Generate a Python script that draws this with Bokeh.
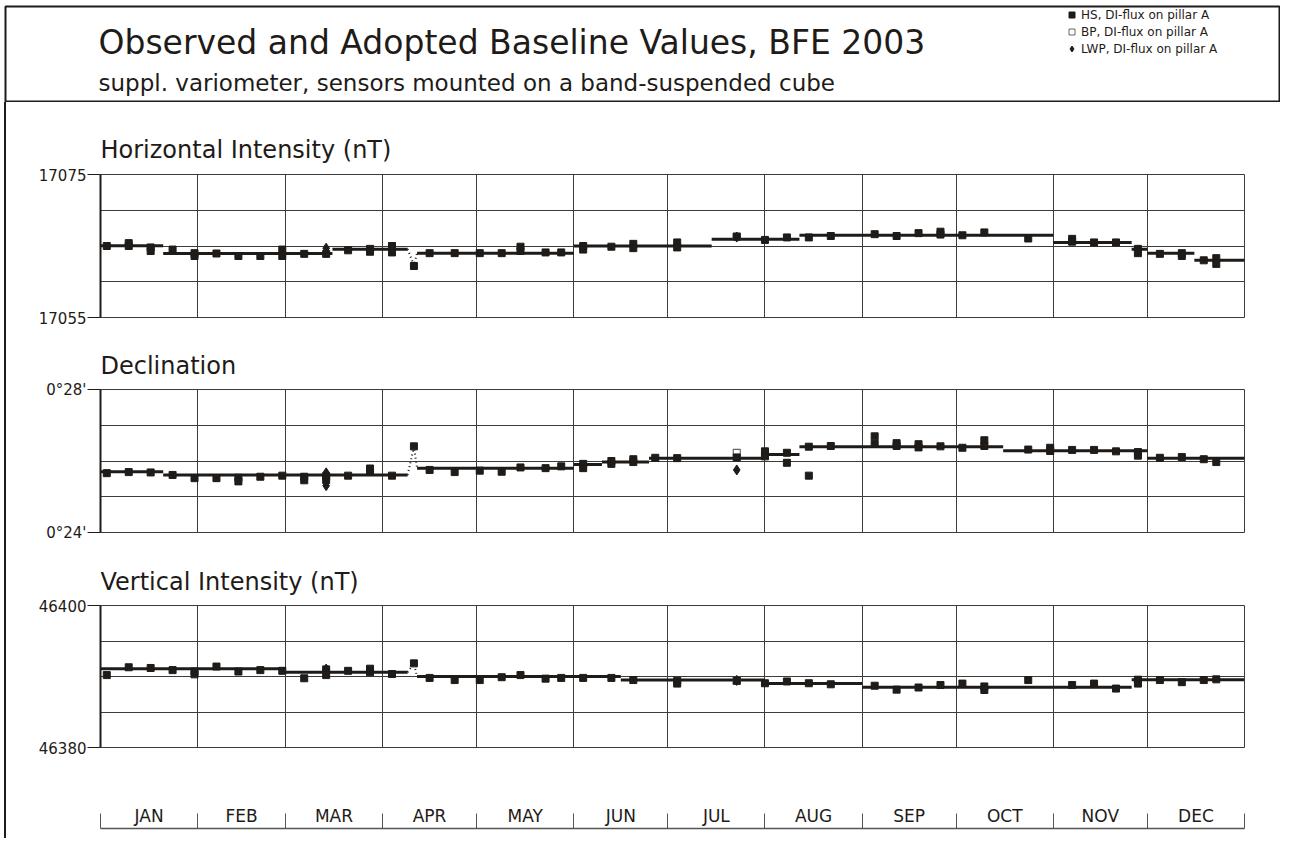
from bokeh.plotting import figure
from bokeh.layouts import column, row
from bokeh.models import (Range1d, FixedTicker, Grid, Label, Legend, LegendItem, Div)
from bokeh.embed import file_html
from bokeh.resources import INLINE

# ---------------- data ----------------
months = ["JAN", "FEB", "MAR", "APR", "MAY", "JUN", "JUL", "AUG", "SEP", "OCT", "NOV", "DEC"]
month_days = [31, 28, 31, 30, 31, 30, 31, 31, 30, 31, 30, 31]

# Horizontal intensity (nT), HS observations (day of year)
h_days = [2, 9, 9, 16, 16, 23, 30, 30, 37, 44, 51, 58, 58, 65, 72, 79, 86, 86, 93, 93,
          100, 105, 113, 121, 128, 134, 134, 142, 147, 154, 154, 163, 170, 170, 184, 184,
          203, 212, 219, 226, 233, 247, 254, 261, 268, 268, 275, 282, 296, 310, 310, 317,
          324, 331, 331, 338, 345, 345, 352, 356, 356]
h_vals = [17065.0, 17065.4, 17065.0, 17064.8, 17064.3, 17064.5, 17064.0, 17063.6, 17063.95, 17063.6,
          17063.6, 17064.5, 17063.6, 17063.9, 17063.9, 17064.4, 17064.6, 17064.2, 17065.0, 17064.1,
          17062.2, 17064.0, 17064.0, 17064.0, 17064.0, 17064.9, 17064.3, 17064.1, 17064.1, 17065.0,
          17064.5, 17064.9, 17065.3, 17064.7, 17065.5, 17064.8, 17066.3, 17065.85, 17066.2, 17066.2,
          17066.4, 17066.65, 17066.4, 17066.8, 17067.0, 17066.6, 17066.5, 17066.9, 17066.05, 17066.0,
          17065.6, 17065.5, 17065.5, 17064.6, 17064.0, 17063.9, 17064.0, 17063.6, 17063.0, 17063.3,
          17062.5]
h_bp_days = [203]
h_bp_vals = [17066.3]
h_lwp_days = [72, 203]
h_lwp_vals = [17064.7, 17066.25]
h_base_start = [0, 20, 74, 101, 151, 195, 223, 304, 329, 334, 349]
h_base_end = [20, 74, 98, 151, 195, 223, 304, 329, 334, 349, 365]
h_base_vals = [17065.03, 17063.95, 17064.55, 17064.0, 17065.0, 17065.95, 17066.5, 17065.5,
               17064.55, 17064.0, 17063.0]
h_jump_days = [98, 100, 101]
h_jump_vals = [17064.55, 17062.3, 17064.0]
h_ticks = [17055, 17075]
h_minor = [17060, 17065, 17070]
h_labels = ["17055", "17075"]

# Declination (arc minutes), HS observations
d_days = [2, 9, 16, 23, 30, 37, 44, 44, 51, 58, 65, 65, 72, 72, 79, 86, 86, 93, 100, 105,
          113, 121, 128, 134, 142, 147, 154, 154, 163, 163, 170, 170, 177, 184, 203, 212, 212,
          219, 219, 226, 226, 233, 247, 247, 254, 254, 261, 261, 268, 275, 282, 282, 296, 303,
          303, 310, 317, 324, 331, 331, 338, 345, 352, 356]
d_vals = [25.66, 25.69, 25.68, 25.61, 25.52, 25.52, 25.53, 25.43, 25.56, 25.59,
          25.56, 25.46, 25.57, 25.47, 25.59, 25.79, 25.70, 25.59, 26.41, 25.75,
          25.69, 25.73, 25.70, 25.82, 25.80, 25.85, 25.92, 25.80, 26.00, 25.92,
          26.05, 25.97, 26.09, 26.08, 26.10, 26.27, 26.13, 26.23, 25.95, 25.59,
          26.40, 26.42, 26.69, 26.48, 26.50, 26.42, 26.47, 26.38, 26.41, 26.37,
          26.58, 26.42, 26.32, 26.37, 26.28, 26.31, 26.31, 26.27, 26.25, 26.15,
          26.09, 26.11, 26.05, 25.97]
d_bp_days = [203]
d_bp_vals = [26.23]
d_lwp_days = [72, 72, 203]
d_lwp_vals = [25.67, 25.31, 25.75]
d_base_start = [0, 20, 101, 151, 160, 175, 212, 223, 288, 334]
d_base_end = [20, 98, 151, 160, 175, 212, 223, 288, 334, 365]
d_base_vals = [25.70, 25.61, 25.80, 25.90, 25.97, 26.08, 26.18, 26.40, 26.29, 26.08]
d_jump_days = [98, 100, 101]
d_jump_vals = [25.61, 26.40, 25.80]
d_ticks = [24, 28]
d_minor = [25, 26, 27]
d_labels = ["0°24'", "0°28'"]

# Vertical intensity (nT), HS observations
z_days = [2, 9, 16, 23, 30, 30, 37, 44, 51, 58, 65, 72, 72, 79, 86, 86, 93, 100, 105, 113,
          121, 128, 134, 142, 147, 154, 163, 170, 184, 184, 203, 212, 219, 226, 233, 247,
          254, 261, 268, 275, 282, 282, 296, 310, 317, 324, 331, 331, 338, 345, 352, 356]
z_vals = [46390.2, 46391.3, 46391.2, 46390.9, 46390.7, 46390.3, 46391.4, 46390.7, 46390.9, 46390.8,
          46389.75, 46391.0, 46390.2, 46390.8, 46391.1, 46390.6, 46390.35, 46391.85, 46389.8, 46389.5,
          46389.5, 46389.9, 46390.2, 46389.7, 46389.8, 46389.8, 46389.8, 46389.5, 46389.4, 46389.0,
          46389.4, 46389.05, 46389.3, 46389.05, 46388.9, 46388.7, 46388.15, 46388.45, 46388.8, 46389.0,
          46388.6, 46388.1, 46389.5, 46388.8, 46389.0, 46388.3, 46389.55, 46389.0, 46389.5, 46389.2,
          46389.5, 46389.6]
z_bp_days = [203]
z_bp_vals = [46389.4]
z_lwp_days = [72, 203]
z_lwp_vals = [46391.05, 46389.45]
z_base_start = [0, 59, 101, 166, 212, 243, 329]
z_base_end = [59, 98, 166, 212, 243, 329, 365]
z_base_vals = [46391.1, 46390.6, 46390.0, 46389.5, 46389.0, 46388.5, 46389.55]
z_jump_days = [98, 100, 101]
z_jump_vals = [46390.6, 46391.8, 46390.0]
z_ticks = [46380, 46400]
z_minor = [46385, 46390, 46395]
z_labels = ["46380", "46400"]

title_text = "Observed and Adopted Baseline Values, BFE 2003"
subtitle_text = "suppl. variometer, sensors mounted on a band-suspended cube"
legend_labels = ["HS, DI-flux on pillar A", "BP, DI-flux on pillar A", "LWP, DI-flux on pillar A"]

# ---------------- style ----------------
FONT = "DejaVu Sans"
INK = "#1e1b18"
GRID = "#3c3c3c"
W = 1280          # total width
PW = 1274         # width of the panel column (after 4px gap + 2px border strip)

bounds = [0]
for n in month_days:
    bounds.append(bounds[-1] + n)
centers = [(a + b) / 2 for a, b in zip(bounds[:-1], bounds[1:])]

# ---------------- header ----------------
hdr = figure(width=W, height=102, x_range=Range1d(5, 1279), y_range=Range1d(101, 6),
             x_axis_type=None, y_axis_type=None,
             min_border_left=5, min_border_top=6, min_border_right=1, min_border_bottom=1,
             toolbar_location=None, output_backend="svg",
             outline_line_color=INK, outline_line_width=2)
hdr.add_layout(Label(x=98, y=42, text=title_text, text_font=FONT, text_font_size="33px",
                     text_baseline="middle", text_color=INK))
hdr.add_layout(Label(x=98, y=82, text=subtitle_text, text_font=FONT, text_font_size="23px",
                     text_baseline="middle", text_color=INK))
# legend glyphs are bound to the H series (they fall outside the header's ranges)
r_bp = hdr.scatter(h_bp_days, h_bp_vals, marker="square", size=7, fill_color="white",
                   line_color="#666666")
r_hs = hdr.scatter(h_days, h_vals, marker="square", size=7, fill_color=INK, line_color=INK)
r_lwp = hdr.scatter(h_lwp_days, h_lwp_vals, marker="diamond", size=9, fill_color=INK,
                    line_color=INK)
legend = Legend(items=[LegendItem(label=legend_labels[0], renderers=[r_hs]),
                       LegendItem(label=legend_labels[1], renderers=[r_bp]),
                       LegendItem(label=legend_labels[2], renderers=[r_lwp])],
                location=(1059, 45), padding=0, margin=0, spacing=2,
                glyph_height=15, glyph_width=15, label_height=15, label_standoff=2,
                label_text_font=FONT, label_text_font_size="12px", label_text_color=INK,
                border_line_alpha=0, background_fill_alpha=0)
hdr.add_layout(legend)


# ---------------- panels ----------------
def panel(title, height, top, bottom, standoff, ticks, minor, labels,
          days, vals, bp_d, bp_v, lwp_d, lwp_v, b0, b1, bv, jd, jv):
    p = figure(width=PW, height=height, x_range=Range1d(0, 365),
               y_range=Range1d(ticks[0], ticks[-1]), x_axis_type=None,
               min_border_left=94, min_border_right=36, min_border_top=top,
               min_border_bottom=bottom, toolbar_location=None, output_backend="svg",
               title=title)
    p.title.text_font = FONT
    p.title.text_font_size = "24px"
    p.title.text_font_style = "normal"
    p.title.text_color = INK
    p.title.align = "left"
    p.title.standoff = standoff
    yt = FixedTicker(ticks=ticks, minor_ticks=minor)
    ax = p.yaxis[0]
    ax.ticker = yt
    ax.major_label_overrides = {t: l for t, l in zip(ticks, labels)}
    ax.axis_line_width = 2
    ax.axis_line_color = INK
    ax.major_tick_out = 13
    ax.major_tick_in = 0
    ax.major_tick_line_color = INK
    ax.minor_tick_line_color = None
    ax.major_label_text_font = FONT
    ax.major_label_text_font_size = "15px"
    ax.major_label_text_color = INK
    ax.major_label_standoff = 1
    p.ygrid.ticker = yt
    p.ygrid.grid_line_color = GRID
    p.ygrid.minor_grid_line_color = GRID
    p.add_layout(Grid(dimension=0, ticker=FixedTicker(ticks=bounds), grid_line_color=GRID))
    p.outline_line_color = GRID
    p.segment(x0=b0, y0=bv, x1=b1, y1=bv, line_width=3, line_color=INK)
    p.line(jd, jv, line_dash="1 3", line_width=2, line_color=INK)
    p.scatter(bp_d, bp_v, marker="square", size=7, fill_color="white", line_color="#666666",
              line_width=1.2)
    p.scatter(days, vals, marker="square", size=7, fill_color=INK, line_color=INK)
    p.scatter(lwp_d, lwp_v, marker="diamond", size=10, fill_color=INK, line_color=INK)
    return p


p1 = panel("Horizontal Intensity (nT)", 238, 72, 23, 22, h_ticks, h_minor, h_labels,
           h_days, h_vals, h_bp_days, h_bp_vals, h_lwp_days, h_lwp_vals,
           h_base_start, h_base_end, h_base_vals, h_jump_days, h_jump_vals)
p2 = panel("Declination", 216, 48, 24, 19, d_ticks, d_minor, d_labels,
           d_days, d_vals, d_bp_days, d_bp_vals, d_lwp_days, d_lwp_vals,
           d_base_start, d_base_end, d_base_vals, d_jump_days, d_jump_vals)
p3 = panel("Vertical Intensity (nT)", 204, 48, 13, 19, z_ticks, z_minor, z_labels,
           z_days, z_vals, z_bp_days, z_bp_vals, z_lwp_days, z_lwp_vals,
           z_base_start, z_base_end, z_base_vals, z_jump_days, z_jump_vals)

# ---------------- month axis ----------------
mx = figure(width=PW, height=78, x_range=Range1d(0, 365), y_range=Range1d(0, 1),
            x_axis_location="above", y_axis_type=None,
            min_border_left=94, min_border_right=36, min_border_top=68, min_border_bottom=0,
            toolbar_location=None, output_backend="svg", outline_line_color=None)
mx.xgrid.visible = False
xa = mx.xaxis[0]
xa.ticker = FixedTicker(ticks=centers, minor_ticks=bounds)
xa.major_label_overrides = {c: m for c, m in zip(centers, months)}
xa.major_tick_out = 0
xa.major_tick_in = 0
xa.minor_tick_out = 15
xa.minor_tick_in = 0
xa.minor_tick_line_color = "#555555"
xa.axis_line_color = "#555555"
xa.axis_line_width = 1.5
xa.major_label_text_font = FONT
xa.major_label_text_font_size = "17px"
xa.major_label_text_color = INK
xa.major_label_standoff = -12

gap = Div(text="", width=4, height=736, margin=0)
strip = Div(text="", width=2, height=736, margin=0, styles={"background-color": INK})

layout = column(hdr, row(gap, strip, column(p1, p2, p3, mx, spacing=0), spacing=0), spacing=0)

open("out.html", "w").write(file_html(layout, INLINE))
